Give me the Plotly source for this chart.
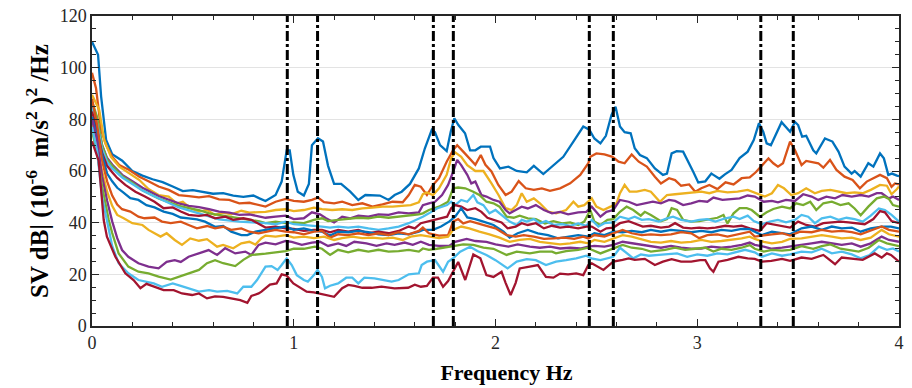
import plotly.graph_objects as go

# ---------------- data (frequency Hz, SV dB) ----------------
BLUE_1 = [(0, 110), (0.02, 107), (0.03, 105), (0.045, 89), (0.07, 72), (0.1, 66.5), (0.15, 64), (0.2, 60), (0.25, 58.2),
          (0.3, 56.8), (0.35, 55.7), (0.4, 54), (0.45, 52.2), (0.5, 52.6), (0.55, 52), (0.6, 51.2), (0.65, 51.4),
          (0.7, 50.5), (0.75, 50), (0.8, 50.5), (0.83, 49.4), (0.86, 48.4), (0.91, 50.7), (0.94, 55.9), (0.965, 68),
          (0.98, 68), (0.998, 58.5), (1.02, 52), (1.05, 50.5), (1.075, 55), (1.09, 70), (1.12, 72.7), (1.145, 71.4),
          (1.17, 62), (1.2, 55), (1.235, 55), (1.28, 52), (1.32, 48.8), (1.355, 50.7), (1.39, 50.5), (1.427, 50.5),
          (1.47, 48.8), (1.5, 50.7), (1.535, 52), (1.576, 55), (1.62, 61), (1.65, 68.8), (1.684, 75.9), (1.7, 75),
          (1.725, 70), (1.758, 67.7), (1.778, 75.2), (1.796, 80.4), (1.816, 77.8), (1.849, 74.6), (1.874, 68),
          (1.9, 68), (1.927, 69.4), (1.973, 69.4), (1.99, 65), (2.022, 61), (2.064, 61.7), (2.105, 60), (2.155, 59.5),
          (2.19, 62), (2.237, 58.8), (2.287, 62.3), (2.336, 65.5), (2.386, 71.4), (2.435, 77.2), (2.465, 76),
          (2.49, 72.6), (2.52, 70.7), (2.547, 73.6), (2.575, 81.7), (2.595, 84.9), (2.617, 77.2), (2.64, 75),
          (2.67, 74.6), (2.69, 68.8), (2.716, 66.2), (2.75, 65), (2.79, 61), (2.83, 58.5), (2.85, 59), (2.873, 66.8),
          (2.898, 67.7), (2.93, 67.5), (2.98, 59.7), (3.005, 55.6), (3.04, 56), (3.07, 59), (3.08, 58.5), (3.11, 57),
          (3.137, 58.7), (3.17, 60.4), (3.21, 65), (3.25, 67.5), (3.28, 72), (3.306, 78.5), (3.327, 75.2),
          (3.344, 70.7), (3.365, 70), (3.394, 75.2), (3.418, 78.9), (3.46, 75.2), (3.484, 79), (3.5, 77.8),
          (3.52, 73.3), (3.54, 73.6), (3.575, 68), (3.59, 66.8), (3.633, 72.6), (3.67, 71.4), (3.7, 67.5),
          (3.73, 61.7), (3.765, 59), (3.78, 60), (3.81, 57.8), (3.848, 63), (3.873, 61.7), (3.906, 66.8),
          (3.925, 64.9), (3.947, 58.5), (3.965, 59), (3.99, 58.2), (4.0, 58)]

ORANGE_1 = [(0, 98), (0.02, 92), (0.045, 76), (0.07, 70), (0.1, 65.5), (0.135, 62.3), (0.185, 60.4), (0.235, 57.8),
            (0.28, 56), (0.33, 54), (0.38, 52.7), (0.43, 50.7), (0.48, 50.3), (0.53, 49.8), (0.58, 50.3), (0.63, 49),
            (0.68, 48.8), (0.73, 47.5), (0.78, 47.7), (0.83, 46.8), (0.86, 46.2), (0.91, 48.1), (0.96, 49.2),
            (1.0, 48.4), (1.05, 48.1), (1.09, 48.8), (1.12, 49.7), (1.15, 47.9), (1.2, 47.5), (1.24, 48.1),
            (1.29, 46.8), (1.34, 47.5), (1.39, 46.2), (1.44, 47.1), (1.49, 48.1), (1.54, 47.9), (1.57, 50.7),
            (1.6, 54.6), (1.63, 53.9), (1.66, 50.7), (1.69, 54.6), (1.72, 57.2), (1.758, 63.6), (1.79, 68.1),
            (1.81, 70), (1.84, 67.5), (1.87, 65), (1.9, 62.4), (1.927, 66.2), (1.95, 62.4), (1.98, 59.8),
            (2.014, 54.6), (2.05, 50.7), (2.08, 52), (2.115, 56.1), (2.15, 53.3), (2.19, 52.7), (2.23, 53.3),
            (2.27, 52.3), (2.32, 53.3), (2.37, 55.2), (2.42, 58.5), (2.46, 63), (2.47, 65.5), (2.5, 66.8),
            (2.54, 66.4), (2.58, 65.5), (2.61, 63.6), (2.64, 63), (2.675, 66.4), (2.71, 63.6), (2.75, 61.7),
            (2.79, 57.8), (2.82, 55.2), (2.86, 57.2), (2.89, 56.5), (2.92, 54.3), (2.96, 54.8), (2.99, 52),
            (3.02, 53.3), (3.06, 54.6), (3.1, 53), (3.14, 55.6), (3.18, 54.8), (3.22, 57.2), (3.26, 57.5),
            (3.29, 59.5), (3.31, 61.3), (3.353, 64.9), (3.377, 63), (3.4, 61.7), (3.425, 63), (3.46, 71.4),
            (3.484, 68.1), (3.517, 62.3), (3.54, 63.9), (3.575, 63.4), (3.6, 63), (3.625, 61.3), (3.658, 64.3),
            (3.69, 60.4), (3.73, 57.8), (3.77, 56.5), (3.806, 53.3), (3.84, 55.9), (3.873, 57.2), (3.906, 58.5),
            (3.94, 57.2), (3.963, 53.9), (3.98, 55.2), (4.0, 54.8)]

YELLOW_1 = [(0, 89.5), (0.036, 83.6), (0.06, 72), (0.094, 65.5), (0.135, 61.7), (0.185, 59.1), (0.235, 56.5),
            (0.28, 53), (0.33, 50.7), (0.38, 50.1), (0.42, 47.5), (0.45, 48.1), (0.487, 45.6), (0.53, 44.3),
            (0.57, 44.9), (0.61, 43), (0.65, 43.9), (0.69, 43.2), (0.74, 44.6), (0.78, 43.9), (0.83, 44),
            (0.86, 44.2), (0.91, 44.9), (0.96, 45.2), (1.0, 44.5), (1.05, 44.9), (1.1, 45.8), (1.14, 45.2),
            (1.19, 44.9), (1.24, 45.2), (1.29, 44.9), (1.34, 45.5), (1.39, 45.8), (1.44, 46.2), (1.49, 46.2),
            (1.54, 46.6), (1.58, 46.8), (1.62, 47.9), (1.64, 51), (1.66, 51.7), (1.69, 50.7), (1.72, 53.3),
            (1.758, 58.5), (1.78, 64.9), (1.8, 67.2), (1.83, 65.5), (1.86, 62.3), (1.9, 60), (1.94, 60), (1.98, 55.2),
            (2.015, 50.7), (2.05, 45.6), (2.08, 44.9), (2.105, 46.8), (2.13, 51.4), (2.155, 48.1), (2.19, 49.4),
            (2.22, 47.5), (2.26, 44.3), (2.3, 43.6), (2.35, 44.9), (2.386, 48.1), (2.41, 46.2), (2.44, 46.8),
            (2.477, 49.4), (2.5, 46.2), (2.535, 44.9), (2.57, 46.2), (2.6, 47.5), (2.617, 51.4), (2.64, 54.6),
            (2.665, 52), (2.7, 52), (2.74, 52.7), (2.77, 52), (2.815, 48.1), (2.85, 50.7), (2.89, 51), (2.94, 51.4),
            (2.99, 51.7), (3.02, 52), (3.06, 51.4), (3.1, 52.3), (3.15, 51.7), (3.2, 52), (3.25, 52.7), (3.285, 51.7),
            (3.335, 50.1), (3.37, 51.4), (3.4, 54.6), (3.43, 53.3), (3.466, 50.7), (3.5, 51.4), (3.54, 53.3),
            (3.583, 51.4), (3.617, 52.3), (3.66, 52.7), (3.7, 52), (3.74, 51.4), (3.78, 51.7), (3.82, 51.4),
            (3.86, 52.7), (3.906, 54.6), (3.94, 54.3), (3.963, 51), (3.99, 53), (4.0, 54)]

PURPLE_1 = [(0, 86), (0.025, 80), (0.05, 70), (0.075, 65), (0.1, 62.5), (0.15, 58.5), (0.2, 56), (0.25, 53.5),
            (0.33, 50.3), (0.38, 48.8), (0.43, 47.5), (0.48, 46.5), (0.53, 46), (0.58, 45.2), (0.63, 44.3),
            (0.68, 43.9), (0.73, 43), (0.78, 43.2), (0.83, 42.2), (0.86, 41.9), (0.91, 42.3), (0.96, 42.7),
            (1.0, 41.4), (1.05, 41.7), (1.09, 44), (1.13, 43.2), (1.16, 41.7), (1.2, 40.1), (1.24, 42.3),
            (1.28, 41.7), (1.32, 42.7), (1.37, 42.3), (1.42, 43.2), (1.47, 43), (1.52, 44), (1.57, 43.6), (1.62, 44),
            (1.64, 46.8), (1.67, 47.5), (1.7, 48.1), (1.735, 50.7), (1.765, 54.6), (1.79, 59.7), (1.81, 64.3),
            (1.83, 62.3), (1.86, 58.5), (1.88, 55.2), (1.9, 55.9), (1.93, 50.7), (1.955, 50.1), (1.99, 48.8),
            (2.02, 48.1), (2.05, 44.9), (2.07, 43.6), (2.1, 44.9), (2.13, 46.2), (2.16, 45.5), (2.2, 46.8),
            (2.24, 44.9), (2.28, 43.6), (2.32, 44.2), (2.36, 43.2), (2.41, 44), (2.45, 44.2), (2.477, 46.2),
            (2.52, 42.3), (2.55, 44.2), (2.584, 44.9), (2.617, 48.8), (2.66, 48.1), (2.7, 46.8), (2.74, 47.5),
            (2.78, 48.1), (2.82, 47.5), (2.86, 48.8), (2.89, 48.4), (2.93, 46.8), (2.97, 47.5), (3.01, 48.4),
            (3.05, 48.1), (3.08, 49.7), (3.125, 48.8), (3.17, 49.2), (3.21, 49.4), (3.25, 50.5), (3.285, 50.1),
            (3.33, 48.1), (3.37, 48.4), (3.4, 47.9), (3.44, 48.8), (3.484, 48.4), (3.525, 51), (3.567, 50.1),
            (3.6, 48.8), (3.64, 50.1), (3.683, 49.4), (3.72, 50.7), (3.766, 50.1), (3.81, 50.7), (3.85, 50.1),
            (3.89, 51.4), (3.914, 51.4), (3.95, 49.4), (3.97, 50.1), (4.0, 48.8)]

GREEN_1 = [(0, 87), (0.025, 81), (0.05, 70), (0.075, 64.5), (0.1, 62), (0.15, 58), (0.2, 55.5), (0.25, 52.5),
           (0.33, 49.4), (0.38, 48.1), (0.43, 46.5), (0.48, 45.6), (0.53, 44.9), (0.58, 43.6), (0.63, 43),
           (0.68, 42.3), (0.73, 41.7), (0.78, 41.3), (0.83, 40.5), (0.86, 39.8), (0.91, 40.4), (0.96, 39.8),
           (1.0, 40.1), (1.05, 39.8), (1.1, 41.1), (1.14, 41.7), (1.17, 40.6), (1.22, 41.1), (1.27, 41.4),
           (1.32, 41.9), (1.37, 41.7), (1.42, 42.3), (1.47, 41.9), (1.52, 42.3), (1.57, 42.7), (1.62, 43.2),
           (1.64, 43.6), (1.67, 44.9), (1.72, 46.2), (1.765, 48.1), (1.79, 53.3), (1.815, 53.6), (1.85, 53.3),
           (1.89, 52), (1.92, 50.7), (1.955, 48.1), (1.99, 47.5), (2.02, 46.2), (2.055, 42.3), (2.09, 41.9),
           (2.12, 42.7), (2.16, 41.7), (2.2, 41.4), (2.245, 39.7), (2.287, 40.6), (2.33, 39.7), (2.37, 40.1),
           (2.41, 39.1), (2.44, 40.4), (2.47, 44.9), (2.49, 40.4), (2.52, 39.1), (2.555, 41.1), (2.584, 41.4),
           (2.617, 44.2), (2.65, 46.2), (2.683, 44.9), (2.72, 42.7), (2.74, 44.2), (2.77, 43), (2.82, 40.6),
           (2.85, 41.4), (2.873, 45.6), (2.9, 44.9), (2.93, 41.1), (2.97, 40.4), (3.01, 40.6), (3.05, 41.1),
           (3.1, 41.9), (3.13, 43), (3.15, 39.7), (3.18, 43.6), (3.21, 45.6), (3.245, 45.6), (3.27, 44.9),
           (3.31, 42.3), (3.344, 44), (3.377, 45.3), (3.42, 46.2), (3.46, 45.5), (3.49, 47.5), (3.525, 46.8),
           (3.56, 48.1), (3.59, 44.9), (3.625, 47.5), (3.667, 48.1), (3.71, 46.8), (3.75, 47.5), (3.78, 45.5),
           (3.81, 42.9), (3.848, 46.2), (3.89, 49.4), (3.925, 50.1), (3.95, 49.2), (3.97, 46.8), (4.0, 46.2)]

LIGHTBLUE_1 = [(0, 84.5), (0.025, 78.5), (0.05, 68.5), (0.075, 63.5), (0.1, 61), (0.15, 57.5), (0.2, 55),
               (0.25, 52.5), (0.3, 50.5), (0.35, 48.8), (0.43, 45.9), (0.53, 43.6), (0.63, 41.3), (0.73, 40.4),
               (0.81, 40.2), (0.86, 39.8), (0.91, 39.4), (0.96, 40.4), (1.0, 39.4), (1.05, 39.1), (1.1, 38.9),
               (1.14, 38.5), (1.18, 38.1), (1.22, 38.5), (1.27, 38.1), (1.32, 38.5), (1.37, 37.8), (1.42, 37.2),
               (1.47, 37.8), (1.52, 38.5), (1.57, 39.8), (1.62, 41.4), (1.64, 42.3), (1.67, 43.6), (1.71, 45.5),
               (1.76, 46.8), (1.78, 48.1), (1.8, 46.8), (1.83, 48.8), (1.86, 48.1), (1.89, 50.7), (1.91, 47.9),
               (1.94, 46.8), (1.97, 43.6), (2.0, 44.9), (2.04, 42.3), (2.07, 40.4), (2.105, 39.1), (2.13, 41.1),
               (2.155, 40.4), (2.19, 41.4), (2.22, 39.7), (2.25, 40.6), (2.29, 39.1), (2.33, 39.4), (2.37, 38.8),
               (2.41, 39.7), (2.45, 38.8), (2.477, 41.1), (2.51, 38.5), (2.54, 39.8), (2.584, 40.1), (2.617, 42.3),
               (2.66, 41.4), (2.69, 42.3), (2.725, 41.1), (2.76, 41.4), (2.81, 40.4), (2.85, 41.7), (2.88, 42.3),
               (2.92, 41.1), (2.97, 40.4), (3.01, 41.1), (3.05, 41.4), (3.09, 40.4), (3.14, 41.7), (3.18, 42.3),
               (3.21, 41.4), (3.25, 42.7), (3.28, 40.6), (3.32, 39.4), (3.36, 40.4), (3.4, 41.1), (3.44, 40.1),
               (3.484, 41.1), (3.517, 43), (3.55, 42.3), (3.583, 39.8), (3.617, 41.7), (3.66, 42.3), (3.7, 41.1),
               (3.74, 41.9), (3.78, 41.4), (3.82, 40.4), (3.86, 42.7), (3.9, 45.5), (3.93, 44.9), (3.963, 43),
               (4.0, 40.4)]

RED_1 = [(0, 83), (0.025, 76), (0.05, 67), (0.075, 62), (0.1, 59.5), (0.125, 57.3), (0.165, 54.6), (0.215, 52),
         (0.26, 50.2), (0.31, 48.1), (0.355, 45.6), (0.4, 45.9), (0.44, 44.3), (0.479, 43), (0.53, 42.6), (0.57, 43),
         (0.61, 41.7), (0.66, 42.3), (0.7, 41.1), (0.75, 41.7), (0.79, 41.1), (0.83, 39.5), (0.86, 38.1),
         (0.91, 38.5), (0.96, 37.8), (1.0, 37.6), (1.05, 36.8), (1.1, 37.2), (1.14, 37.2), (1.18, 36.3),
         (1.22, 37.2), (1.27, 36.5), (1.32, 37.2), (1.37, 35.9), (1.42, 36.5), (1.47, 35.9), (1.52, 36.8),
         (1.57, 38.5), (1.6, 37.8), (1.63, 39.8), (1.67, 40.6), (1.71, 41.1), (1.76, 42.3), (1.78, 45.6),
         (1.8, 46.8), (1.83, 46.2), (1.86, 44.9), (1.9, 45.6), (1.93, 44.2), (1.96, 41.9), (1.99, 41.1),
         (2.03, 40.1), (2.06, 37.8), (2.1, 38.5), (2.13, 39.8), (2.16, 39.1), (2.2, 39.8), (2.24, 37.8),
         (2.28, 38.8), (2.32, 38.1), (2.36, 38.5), (2.41, 37.8), (2.45, 38.5), (2.477, 38.5), (2.52, 36.5),
         (2.55, 37.8), (2.584, 38.1), (2.617, 39.8), (2.66, 40.6), (2.69, 39.8), (2.73, 38.5), (2.77, 38.8),
         (2.82, 38.1), (2.86, 38.5), (2.89, 39.8), (2.93, 38.1), (2.97, 37.8), (3.01, 38.1), (3.05, 37.8),
         (3.09, 38.1), (3.14, 38.8), (3.18, 38.5), (3.22, 38.8), (3.26, 37.8), (3.31, 36.8), (3.344, 39.8),
         (3.39, 39.1), (3.43, 38.5), (3.46, 38.1), (3.5, 40.4), (3.54, 39.1), (3.583, 38.5), (3.625, 39.8),
         (3.667, 40.1), (3.71, 40.4), (3.75, 40.1), (3.79, 39.8), (3.83, 39.4), (3.873, 41.4), (3.906, 44.5),
         (3.93, 44), (3.963, 40.6), (4.0, 39.8)]

BLUE_2 = [(0, 81), (0.025, 74), (0.05, 66), (0.075, 59), (0.1, 56), (0.125, 53.5), (0.15, 52), (0.19, 49.5),
          (0.23, 48.8), (0.27, 46.8), (0.31, 45.9), (0.355, 44.3), (0.4, 43.4), (0.44, 42), (0.479, 41.7),
          (0.52, 41.3), (0.56, 40.4), (0.61, 38.4), (0.65, 38.7), (0.69, 36.5), (0.74, 35.2), (0.77, 35.2),
          (0.81, 36.5), (0.86, 37.2), (0.91, 37.8), (0.96, 38.5), (1.0, 37.2), (1.05, 37.8), (1.1, 36.8),
          (1.14, 36.5), (1.18, 35), (1.22, 36.5), (1.27, 36.3), (1.32, 36.8), (1.37, 36.3), (1.42, 35.5),
          (1.47, 35.2), (1.52, 35.9), (1.57, 35.5), (1.62, 36.5), (1.64, 37.2), (1.69, 37.2), (1.73, 38.5),
          (1.77, 40.4), (1.8, 42.3), (1.83, 45.6), (1.86, 42), (1.9, 41.4), (1.94, 40.4), (1.99, 39.1), (2.04, 36.5),
          (2.07, 34.2), (2.11, 35.9), (2.16, 37.2), (2.21, 35.9), (2.26, 35.2), (2.31, 33.9), (2.36, 34.6),
          (2.41, 35.2), (2.46, 34.6), (2.49, 35.9), (2.54, 35.2), (2.584, 36.5), (2.63, 36.3), (2.675, 36.8),
          (2.725, 36.3), (2.77, 37.2), (2.82, 36.5), (2.87, 37.2), (2.92, 36.8), (2.97, 36.3), (3.02, 36.8),
          (3.07, 36.3), (3.12, 37.2), (3.17, 36.8), (3.22, 37.6), (3.26, 37.5), (3.285, 36.5), (3.32, 35.2),
          (3.37, 36.5), (3.42, 35.9), (3.46, 35.5), (3.517, 37.8), (3.567, 38.5), (3.617, 37.2), (3.667, 38.5),
          (3.716, 37.8), (3.766, 38.1), (3.81, 36.5), (3.86, 37.8), (3.914, 38.5), (3.96, 38.5), (4.0, 37.8)]

ORANGE_2 = [(0, 88), (0.025, 78), (0.05, 64), (0.075, 56), (0.1, 50.5), (0.125, 47), (0.149, 45.2), (0.19, 44.3),
            (0.23, 42.3), (0.26, 41.7), (0.31, 42), (0.347, 40.4), (0.39, 39.8), (0.44, 40.4), (0.479, 39.1),
            (0.52, 37.8), (0.57, 38.7), (0.61, 37.8), (0.65, 38.4), (0.69, 37.2), (0.74, 37.8), (0.78, 36.5),
            (0.826, 35.9), (0.86, 36.5), (0.91, 37.2), (0.96, 36.5), (1.0, 36.3), (1.05, 35.5), (1.1, 36.5),
            (1.14, 36.8), (1.18, 34.2), (1.22, 35.5), (1.27, 35.2), (1.32, 35.9), (1.37, 35.2), (1.42, 35.9),
            (1.47, 35.2), (1.52, 36.3), (1.57, 35.5), (1.62, 36.8), (1.64, 38.1), (1.67, 35.9), (1.72, 35),
            (1.765, 35.2), (1.79, 40.4), (1.815, 41.4), (1.84, 39.7), (1.874, 40.6), (1.91, 39.7), (1.955, 38.8),
            (2.0, 37.8), (2.055, 35.2), (2.1, 34.6), (2.14, 35.2), (2.19, 34.6), (2.24, 33.7), (2.29, 33.9),
            (2.34, 34.2), (2.39, 33.7), (2.435, 34.6), (2.46, 33.9), (2.49, 35.2), (2.54, 34.6), (2.584, 35.9),
            (2.63, 37.2), (2.675, 35.9), (2.725, 35.2), (2.77, 35.5), (2.82, 35.2), (2.87, 35.5), (2.92, 36.3),
            (2.97, 35.9), (3.01, 34), (3.05, 35.2), (3.1, 35.5), (3.15, 34.6), (3.2, 35.5), (3.26, 36.5),
            (3.285, 34.6), (3.33, 35.2), (3.37, 35.5), (3.42, 35.9), (3.46, 35), (3.51, 36.5), (3.567, 36.3),
            (3.617, 37.2), (3.667, 36.5), (3.716, 36.8), (3.766, 36.3), (3.81, 35.5), (3.86, 36.8), (3.914, 38.5),
            (3.95, 37.2), (4.0, 36.5)]

YELLOW_2 = [(0, 78.5), (0.025, 70), (0.05, 60), (0.075, 52), (0.1, 46.5), (0.125, 43), (0.157, 41.7), (0.2, 39.8),
            (0.25, 39.1), (0.28, 37.2), (0.34, 34.6), (0.37, 35.9), (0.41, 33.3), (0.446, 31.4), (0.487, 33.9),
            (0.53, 33), (0.57, 33.6), (0.62, 30.7), (0.65, 31.4), (0.7, 30.1), (0.74, 32), (0.78, 32.6),
            (0.81, 31.5), (0.84, 34), (0.86, 35), (0.91, 34.6), (0.96, 35.2), (1.0, 34.2), (1.05, 34.6), (1.1, 34),
            (1.15, 34.6), (1.2, 33.3), (1.24, 34), (1.29, 34.6), (1.34, 34), (1.39, 34.2), (1.44, 33.8),
            (1.49, 34.2), (1.54, 33.3), (1.58, 34.6), (1.63, 35.2), (1.67, 34.6), (1.72, 34), (1.765, 34.6),
            (1.79, 37.2), (1.83, 38.5), (1.87, 37.8), (1.92, 36.5), (1.97, 35.5), (2.02, 34.2), (2.07, 32.6),
            (2.12, 33.3), (2.17, 33.7), (2.22, 32.6), (2.27, 32), (2.32, 31.6), (2.37, 32), (2.42, 32.6), (2.46, 32),
            (2.49, 33.3), (2.54, 32.6), (2.584, 33.9), (2.63, 35.2), (2.675, 34.6), (2.725, 33.7), (2.77, 32.6),
            (2.82, 32.3), (2.87, 32.9), (2.92, 32.3), (2.97, 32.6), (3.02, 33.3), (3.07, 32.6), (3.12, 32.9),
            (3.17, 33.3), (3.22, 33.9), (3.26, 34.6), (3.285, 33.7), (3.33, 32.6), (3.37, 32), (3.42, 32.6),
            (3.46, 33.7), (3.517, 33.9), (3.567, 34.6), (3.617, 35.2), (3.667, 34.6), (3.716, 33.9), (3.766, 34.2),
            (3.81, 33.3), (3.86, 34.2), (3.914, 37.2), (3.95, 35.5), (4.0, 34.6)]

PURPLE_2 = [(0, 80), (0.025, 72), (0.05, 58), (0.075, 48.5), (0.1, 40.5), (0.125, 34), (0.149, 29.4), (0.18, 26.8),
            (0.23, 24.3), (0.28, 23), (0.33, 22.3), (0.37, 24.8), (0.41, 25.5), (0.44, 24.8), (0.479, 26.8),
            (0.53, 28.1), (0.578, 29.4), (0.62, 27.5), (0.66, 30.1), (0.71, 28.1), (0.76, 28.8), (0.79, 27.5),
            (0.826, 31.4), (0.86, 32.3), (0.91, 31.6), (0.96, 32.9), (0.99, 32.6), (1.04, 31.4), (1.09, 32.3),
            (1.13, 32.6), (1.17, 31), (1.22, 32), (1.26, 31), (1.3, 32.6), (1.36, 32), (1.41, 31), (1.46, 32),
            (1.5, 31.4), (1.55, 32.3), (1.59, 31.4), (1.63, 32.6), (1.67, 31.4), (1.72, 31), (1.77, 31), (1.8, 32.6),
            (1.857, 33.7), (1.9, 32.9), (1.955, 32.6), (2.0, 31.6), (2.064, 30.7), (2.11, 31.6), (2.17, 30.7),
            (2.22, 30.3), (2.27, 30.7), (2.32, 30), (2.37, 30.3), (2.42, 30), (2.46, 30.7), (2.49, 31), (2.54, 30.7),
            (2.584, 31.4), (2.63, 32.6), (2.675, 32), (2.725, 31.4), (2.77, 30.7), (2.82, 30.3), (2.87, 31),
            (2.92, 30.3), (2.97, 29.9), (3.02, 30), (3.07, 30.7), (3.12, 30.3), (3.17, 30.7), (3.22, 31.4),
            (3.26, 32.3), (3.285, 31.4), (3.33, 30.7), (3.37, 29.9), (3.42, 30.3), (3.46, 30.7), (3.517, 31.4),
            (3.567, 32), (3.617, 32.6), (3.667, 32), (3.716, 31.4), (3.766, 32), (3.81, 30.7), (3.86, 32),
            (3.914, 34.6), (3.95, 33.3), (4.0, 32.6)]

GREEN_2 = [(0, 75.5), (0.025, 67), (0.05, 54), (0.083, 41), (0.1, 36), (0.132, 28.1), (0.18, 23), (0.23, 21),
           (0.28, 20.4), (0.33, 19.1), (0.39, 18), (0.43, 19.1), (0.479, 20.4), (0.53, 21.7), (0.57, 24.3),
           (0.61, 25.5), (0.65, 24.3), (0.71, 23.2), (0.75, 25.6), (0.79, 27.5), (0.86, 28), (0.91, 28.5),
           (0.96, 29), (1.0, 29.9), (1.05, 29.9), (1.105, 30.7), (1.14, 29.9), (1.18, 27.5), (1.22, 29.5),
           (1.27, 28.5), (1.32, 29.5), (1.37, 28.8), (1.42, 29.5), (1.47, 28.8), (1.52, 29), (1.57, 29.5),
           (1.62, 28.8), (1.64, 30), (1.67, 29.5), (1.71, 29.9), (1.76, 30.4), (1.79, 30.9), (1.84, 31.6),
           (1.89, 31.4), (1.94, 30.3), (1.99, 29.9), (2.055, 27.5), (2.105, 28.8), (2.17, 28.1), (2.22, 28.8),
           (2.28, 28.8), (2.3, 28.1), (2.35, 29), (2.41, 29.5), (2.46, 30.3), (2.477, 29.5), (2.52, 28.1),
           (2.584, 29.9), (2.63, 31.4), (2.675, 30.3), (2.725, 29.9), (2.77, 28.8), (2.84, 29.5), (2.89, 30.3),
           (2.94, 29.5), (2.99, 29.9), (3.04, 30.3), (3.08, 28.8), (3.12, 29.9), (3.17, 29.5), (3.22, 30.3),
           (3.26, 31.3), (3.285, 29.9), (3.33, 28.8), (3.37, 29.5), (3.42, 29.2), (3.46, 29.5), (3.517, 30.9),
           (3.575, 29.9), (3.617, 30.9), (3.66, 31.6), (3.71, 29.9), (3.76, 29.2), (3.8, 28.8), (3.85, 30.3),
           (3.9, 33.3), (3.94, 32), (3.97, 31.4), (4.0, 30.9)]

LIGHTBLUE_2 = [(0, 77), (0.025, 68), (0.05, 50), (0.066, 43.6), (0.1, 31), (0.132, 24.3), (0.18, 20.4),
               (0.23, 17.8), (0.26, 17.2), (0.306, 16.5), (0.347, 15.2), (0.4, 16.5), (0.44, 15.5), (0.479, 14.6),
               (0.53, 13.3), (0.58, 13.9), (0.62, 13.3), (0.67, 13.6), (0.72, 12.6), (0.75, 15.2), (0.79, 15.2),
               (0.818, 17.8), (0.84, 20.4), (0.86, 23), (0.89, 23.2), (0.92, 21.7), (0.94, 23.6), (0.965, 26.2),
               (0.99, 23.6), (1.015, 19.7), (1.05, 17.8), (1.07, 17.2), (1.1, 19.7), (1.118, 21.7), (1.14, 19),
               (1.155, 14.6), (1.18, 15.6), (1.22, 16.5), (1.26, 18.7), (1.29, 18.7), (1.32, 16.5), (1.35, 18.7),
               (1.4, 18.4), (1.44, 17.8), (1.485, 17.2), (1.52, 17.8), (1.57, 20), (1.62, 20.4), (1.634, 23.6),
               (1.66, 24.9), (1.7, 25.5), (1.74, 21), (1.765, 24.9), (1.79, 26.2), (1.825, 28.8), (1.874, 30.7),
               (1.91, 29), (1.955, 27.5), (2.0, 25.5), (2.06, 22.3), (2.105, 24.9), (2.155, 25.9), (2.2, 25.5),
               (2.25, 23.6), (2.3, 24.9), (2.35, 25.5), (2.4, 26.2), (2.45, 27.2), (2.475, 26.2), (2.52, 25.5),
               (2.584, 26.8), (2.617, 30.3), (2.64, 28.8), (2.683, 26.2), (2.72, 27.7), (2.76, 27.2), (2.81, 27.5),
               (2.86, 27.7), (2.9, 28.1), (2.95, 26.8), (3.0, 27.7), (3.05, 27.2), (3.1, 28.1), (3.15, 27.7),
               (3.2, 28.8), (3.237, 29.5), (3.285, 28.5), (3.32, 26.8), (3.37, 28.1), (3.42, 27.2), (3.46, 27.7),
               (3.517, 28.8), (3.567, 28.5), (3.617, 29.9), (3.667, 28.1), (3.716, 28.8), (3.766, 27.7), (3.81, 26.2),
               (3.855, 27.5), (3.9, 30.7), (3.94, 29.5), (3.97, 30), (4.0, 28.8)]

RED_2 = [(0, 71.5), (0.033, 64), (0.058, 41), (0.074, 34.6), (0.116, 26.8), (0.165, 20.4), (0.206, 17.8),
         (0.24, 14.6), (0.27, 16.3), (0.31, 15.2), (0.355, 13.9), (0.405, 13.9), (0.446, 12.6), (0.496, 12),
         (0.53, 12.6), (0.57, 10.7), (0.61, 11.5), (0.65, 11.3), (0.7, 10.7), (0.735, 10), (0.77, 9), (0.79, 11.6),
         (0.826, 12.6), (0.84, 13.3), (0.882, 16), (0.915, 16.5), (0.94, 20), (0.965, 19.5), (0.998, 16.5),
         (1.03, 14.8), (1.064, 13.3), (1.1, 13), (1.12, 12.6), (1.16, 12), (1.2, 11.3), (1.24, 14.6), (1.27, 15.9),
         (1.3, 15.5), (1.34, 14.8), (1.386, 14.8), (1.435, 15.2), (1.5, 14.6), (1.567, 14.8), (1.6, 16),
         (1.63, 15.2), (1.66, 15.5), (1.69, 18.7), (1.715, 18.7), (1.74, 15.2), (1.765, 17.4), (1.79, 21),
         (1.815, 24.8), (1.85, 17.8), (1.89, 27.7), (1.925, 26.2), (1.955, 19.7), (1.99, 19), (2.03, 21),
         (2.05, 16.7), (2.075, 12), (2.1, 16.7), (2.12, 22.3), (2.17, 23), (2.21, 23.6), (2.25, 19), (2.287, 18.7),
         (2.32, 20.3), (2.36, 20), (2.4, 20.4), (2.435, 19.7), (2.46, 23.6), (2.477, 24.3), (2.535, 21.7),
         (2.584, 24.9), (2.63, 25.6), (2.66, 26.2), (2.69, 25.6), (2.74, 26), (2.79, 23.6), (2.83, 24.9),
         (2.873, 25.9), (2.92, 24.9), (2.97, 24.9), (3.014, 25.5), (3.04, 25.5), (3.063, 22.3), (3.08, 21),
         (3.105, 24.9), (3.15, 25.6), (3.204, 26.8), (3.25, 26.2), (3.285, 26), (3.32, 24.9), (3.367, 25.2),
         (3.42, 26), (3.46, 25.2), (3.517, 26.5), (3.567, 26), (3.625, 27.5), (3.683, 23.9), (3.716, 26.5),
         (3.78, 26), (3.82, 25.6), (3.88, 28.1), (3.914, 26.5), (3.94, 28.1), (3.96, 27.5), (4.0, 24.9)]

SERIES = [BLUE_1, ORANGE_1, YELLOW_1, PURPLE_1, GREEN_1, LIGHTBLUE_1, RED_1,
          BLUE_2, ORANGE_2, YELLOW_2, PURPLE_2, GREEN_2, LIGHTBLUE_2, RED_2]

# marked resonance frequencies (Hz)
VLINES_HZ = [0.968, 1.118, 1.692, 1.791, 2.465, 2.584, 3.315, 3.476]

X_TICKS = [0, 1, 2, 3, 4]
Y_TICKS = [0, 20, 40, 60, 80, 100, 120]

# ---------------- styling ----------------
COLORS = ["#0072BD", "#D95319", "#EDB120", "#7E2F8E", "#77AC30", "#4DBEEE", "#A2142F"]
AXIS_COLOR = "#262626"
FONT = "Liberation Serif, Times New Roman, serif"

fig = go.Figure()
for i, s in enumerate(SERIES):
    f = [p[0] for p in s]
    v = [p[1] for p in s]
    fig.add_trace(go.Scatter(x=f, y=v, mode="lines",
                             line=dict(color=COLORS[i % len(COLORS)], width=2.3),
                             showlegend=False, hoverinfo="skip"))

for xv in VLINES_HZ:
    fig.add_shape(type="line", xref="x", yref="paper", x0=xv, x1=xv, y0=0, y1=1,
                  line=dict(color="black", width=3, dash="10px,3px,3px,3px"), layer="above")

fig.update_layout(
    width=912, height=388,
    margin=dict(l=92, r=13, t=16, b=62),
    paper_bgcolor="white", plot_bgcolor="white",
    font=dict(family=FONT, size=18, color=AXIS_COLOR),
    showlegend=False,
)

fig.update_xaxes(
    range=[0, 4], tickmode="array", tickvals=X_TICKS, ticktext=[str(t) for t in X_TICKS],
    ticks="inside", ticklen=7, tickwidth=1, tickcolor=AXIS_COLOR,
    showline=True, linecolor=AXIS_COLOR, linewidth=1.5, mirror="ticks",
    showgrid=False, zeroline=False, automargin=False,
    minor=dict(tickmode="linear", tick0=0, dtick=0.2, ticks="inside", ticklen=4,
               tickcolor=AXIS_COLOR, showgrid=False),
    title=dict(text="<b>\u00a0\u00a0\u00a0\u00a0Frequency Hz</b>",
               font=dict(family=FONT, size=22, color="black"), standoff=12),
)
fig.update_yaxes(
    range=[0, 120], tickmode="array", tickvals=Y_TICKS, ticktext=[str(t) for t in Y_TICKS],
    ticks="inside", ticklen=7, tickwidth=1, tickcolor=AXIS_COLOR,
    showline=True, linecolor=AXIS_COLOR, linewidth=1.5, mirror="ticks",
    showgrid=True, gridcolor="#e3e3e3", gridwidth=1, zeroline=False, automargin=False,
    minor=dict(tickmode="linear", tick0=0, dtick=5, ticks="inside", ticklen=4,
               tickcolor=AXIS_COLOR, showgrid=False),
    title=dict(text="<b>SV dB|\u00a0(10<sup>-6</sup>\u00a0\u00a0m/s<sup>2</sup>\u00a0)<sup>2</sup>\u00a0/Hz</b>",
               font=dict(family=FONT, size=25, color="black"), standoff=4),
)

fig.write_html("out.html")
